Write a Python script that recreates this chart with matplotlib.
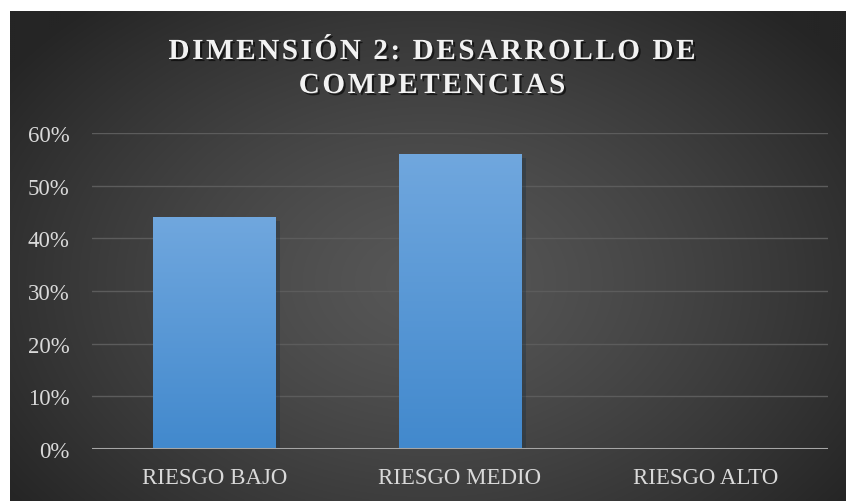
import numpy as np
import matplotlib
matplotlib.use("Agg")
import matplotlib.pyplot as plt
import matplotlib.patheffects as pe
from matplotlib.transforms import IdentityTransform
from matplotlib.font_manager import FontProperties, findfont
from matplotlib.ft2font import FT2Font

# data
categories = ['RIESGO BAJO', 'RIESGO MEDIO', 'RIESGO ALTO']
values = [0.44, 0.56, 0.0]
yticks = [0.0, 0.1, 0.2, 0.3, 0.4, 0.5, 0.6]
title_lines = ['DIMENSIÓN 2: DESARROLLO DE', 'COMPETENCIAS']

W, H, DPI = 846, 502, 100
fig = plt.figure(figsize=(W / DPI, H / DPI), dpi=DPI, facecolor='white')

# dark radial background
bg = fig.add_axes([10 / W, 0, (W - 10) / W, (H - 12) / H])
bg.set_axis_off()
ny, nx = 245, 418
yy, xx = np.mgrid[0:ny, 0:nx]
cx, cy = nx * 0.50, ny * 0.55
r = np.sqrt(((xx - cx) / (nx * 0.62)) ** 2 + ((yy - cy) / (ny * 0.75)) ** 2)
r = np.clip(r, 0, 1)
val = (0x57 - (0x57 - 0x25) * r ** 1.3) / 255.0
bg.imshow(np.dstack([val, val, val]), extent=[0, 1, 0, 1], aspect='auto',
          origin='upper', interpolation='bilinear')
bg.set_xlim(0, 1)
bg.set_ylim(0, 1)

# main axes
ax = fig.add_axes([92 / W, (H - 450) / H, 736 / W, 316 / H])
ax.set_facecolor('none')
for s in ax.spines.values():
    s.set_visible(False)

x = np.arange(len(categories))
bars = ax.bar(x, values, width=0.5, color='#5b9bd5', zorder=3,
              path_effects=[pe.SimplePatchShadow(offset=(3, -3), alpha=0.35), pe.Normal()])

# vertical gradient on each bar
top_c = np.array([112, 167, 222]) / 255.0
bot_c = np.array([66, 137, 205]) / 255.0
t = np.linspace(0, 1, 100)[:, None]
grad = (top_c[None, :] * (1 - t) + bot_c[None, :] * t)[:, None, :]
for b in bars:
    if b.get_height() <= 0:
        continue
    im = ax.imshow(grad, extent=[b.get_x(), b.get_x() + b.get_width(), 0, b.get_height()],
                   aspect='auto', origin='upper', zorder=4, interpolation='bilinear')
    im.set_clip_path(b)

ax.set_xlim(-0.5, len(categories) - 0.5)
ax.set_ylim(0, 0.6)
for v in yticks[1:]:
    ax.axhline(v, color='#5c5c5c', lw=1.0, zorder=1)
ax.axhline(0, color='#a6a6a6', lw=2.2, zorder=5)

ax.set_yticks(yticks)
ax.set_yticklabels([f'{int(round(v * 100))}%' for v in yticks])
ax.set_xticks(x)
ax.set_xticklabels(categories)
ax.tick_params(axis='both', length=0, colors='#d9d9d9')
ax.tick_params(axis='y', pad=16)
ax.tick_params(axis='x', pad=13)
for lab in ax.get_xticklabels() + ax.get_yticklabels():
    lab.set_fontfamily('Liberation Serif')
    lab.set_fontsize(16.5)
    lab.set_color('#d9d9d9')

# title with letter spacing, drawn char by char
tprop = FontProperties(family='Liberation Serif', weight='bold', size=21)
ft = FT2Font(findfont(tprop))
ft.set_size(tprop.get_size_in_points(), DPI)
spacing = 2.6
center_x = 432
baselines = [H - 60, H - 94]
shadow = [pe.withSimplePatchShadow(offset=(1.5, -1.5), shadow_rgbFace='black', alpha=0.6)]
for line, base in zip(title_lines, baselines):
    adv = [ft.load_char(ord(ch)).linearHoriAdvance / 65536.0 for ch in line]
    total = sum(adv) + spacing * (len(line) - 1)
    xpos = center_x - total / 2
    for ch, a in zip(line, adv):
        fig.text(xpos, base, ch, transform=IdentityTransform(), fontproperties=tprop,
                 color='#f2f2f2', va='baseline', ha='left', path_effects=shadow)
        xpos += a + spacing

fig.savefig('out.png', dpi=DPI)
